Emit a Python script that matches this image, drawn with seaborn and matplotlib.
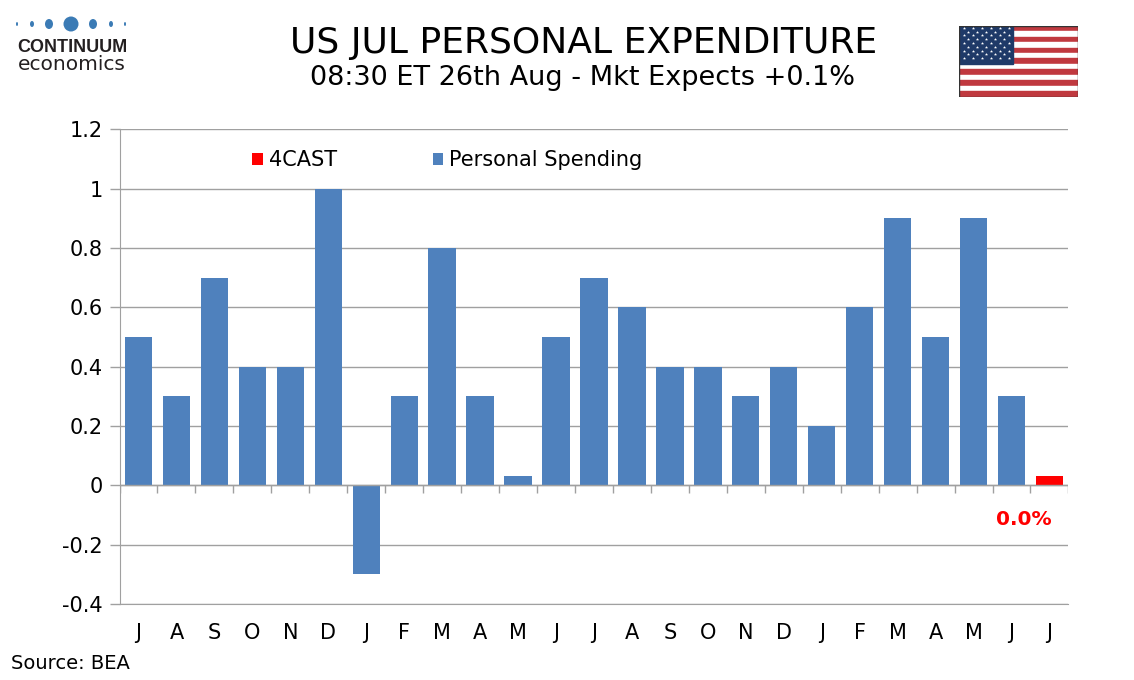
import numpy as np
import pandas as pd
import seaborn as sns
import matplotlib.pyplot as plt
from matplotlib.patches import Rectangle, Ellipse

# Monthly personal spending, % m/m (Jul last year .. Jul this year)
months = ['J', 'A', 'S', 'O', 'N', 'D', 'J', 'F', 'M', 'A', 'M', 'J',
          'J', 'A', 'S', 'O', 'N', 'D', 'J', 'F', 'M', 'A', 'M', 'J', 'J']
spending = [0.5, 0.3, 0.7, 0.4, 0.4, 1.0, -0.3, 0.3, 0.8, 0.3, 0.03, 0.5,
            0.7, 0.6, 0.4, 0.4, 0.3, 0.4, 0.2, 0.6, 0.9, 0.5, 0.9, 0.3]
forecast = [0.03]
forecast_label = '0.0%'

values = spending + forecast
series = ['Personal Spending'] * len(spending) + ['4CAST'] * len(forecast)
df = pd.DataFrame({'pos': np.arange(len(values)), 'value': values, 'series': series})

blue = '#4f81bd'
red = '#ff0000'
grid_col = '#a0a0a0'

sns.set_style('white')
plt.rcParams['font.family'] = ['DejaVu Sans']
plt.rcParams['text.color'] = 'black'
plt.rcParams['xtick.color'] = 'black'
plt.rcParams['ytick.color'] = 'black'

fig = plt.figure(figsize=(11.34, 6.8), dpi=100)
ax = fig.add_axes([0.1054, 0.112, 0.8368, 0.698])

sns.barplot(data=df, x='pos', y='value', hue='series',
            hue_order=['4CAST', 'Personal Spending'],
            palette={'4CAST': red, 'Personal Spending': blue},
            dodge=False, width=0.72, saturation=1, linewidth=0, ax=ax)

n = len(values)
ax.set_xlim(-0.5, n - 0.5)
ax.set_ylim(-0.4, 1.2)
ax.set_yticks(np.arange(-0.4, 1.21, 0.2))
ax.set_yticklabels(['-0.4', '-0.2', '0', '0.2', '0.4', '0.6', '0.8', '1', '1.2'])
ax.yaxis.grid(True, color=grid_col, linewidth=1)
ax.set_axisbelow(True)
ax.set_xticks(range(n))
ax.set_xticklabels(months)
ax.tick_params(axis='x', length=0, pad=14, labelsize=15, labelcolor='black')
ax.tick_params(axis='y', length=7, color=grid_col, width=1, labelsize=15, pad=5,
               left=True, labelcolor='black')
ax.set_xlabel('')
ax.set_ylabel('')
for s in ['top', 'right']:
    ax.spines[s].set_visible(False)
ax.spines['left'].set_color(grid_col)
ax.spines['bottom'].set_color(grid_col)

# zero line with category boundary ticks
ax.axhline(0, color=grid_col, linewidth=1, zorder=1)
ax.vlines(np.arange(n + 1) - 0.5, -0.028, 0, color=grid_col, linewidth=1)

# forecast label
ax.text(n - 1 + 0.05, -0.115, forecast_label, color=red, fontsize=14.5, fontweight='bold',
        ha='right', va='center')

# legend
handles, labels = ax.get_legend_handles_labels()
ax.legend(handles, labels, loc='upper left', bbox_to_anchor=(0.12, 0.995), ncol=2,
          frameon=False, fontsize=15, handlelength=0.5, handleheight=0.5,
          handletextpad=0.3, columnspacing=4.6)

# titles
fig.text(0.515, 0.937, 'US JUL PERSONAL EXPENDITURE', ha='center', va='center', fontsize=26)
fig.text(0.514, 0.886, '08:30 ET 26th Aug - Mkt Expects +0.1%', ha='center', va='center',
         fontsize=19.5)
fig.text(0.01, 0.024, 'Source: BEA', ha='left', va='center', fontsize=14)

# logo (drawn in pixel units)
logo = fig.add_axes([0.0, 1 - 72 / 680, 150 / 1134, 57 / 680])
logo.set_xlim(0, 150)
logo.set_ylim(0, 57)
logo.axis('off')
dot_x = [17, 32, 49, 71, 93, 111, 125]
dot_w = [2, 4, 8, 15, 8, 4, 2]
dot_h = [4, 6, 10, 15, 10, 6, 4]
for x, w, h in zip(dot_x, dot_w, dot_h):
    logo.add_patch(Ellipse((x, 48), w, h, color='#3b7bb5', linewidth=0))
logo.text(72, 25, 'CONTINUUM', ha='center', va='center', fontsize=13,
          color='#231f20', fontweight='bold', family='Liberation Sans')
logo.text(72, 8, 'economics', ha='center', va='center', fontsize=14.5,
          color='#231f20', family='DejaVu Sans')

# flag
flag = fig.add_axes([0.846, 0.858, 0.105, 0.104])
flag.set_xlim(0, 1.9)
flag.set_ylim(0, 1)
flag.axis('off')
for i in range(13):
    c = '#c0393f' if i % 2 == 0 else 'white'
    flag.add_patch(Rectangle((0, 1 - (i + 1) / 13), 1.9, 1 / 13, color=c))
flag.add_patch(Rectangle((0, 6 / 13), 0.86, 7 / 13, color='#1f3a68'))
for r in range(9):
    cols = 6 if r % 2 == 0 else 5
    off = 0.072 if r % 2 == 0 else 0.144
    for c in range(cols):
        flag.plot(off + c * 0.143, 1 - 0.054 * (r + 0.5), marker='*', color='white',
                  markersize=2.4, markeredgewidth=0)
flag.add_patch(Rectangle((0, 0), 1.9, 1, fill=False, edgecolor='#333333', linewidth=1))

fig.savefig('out.png', dpi=100)
